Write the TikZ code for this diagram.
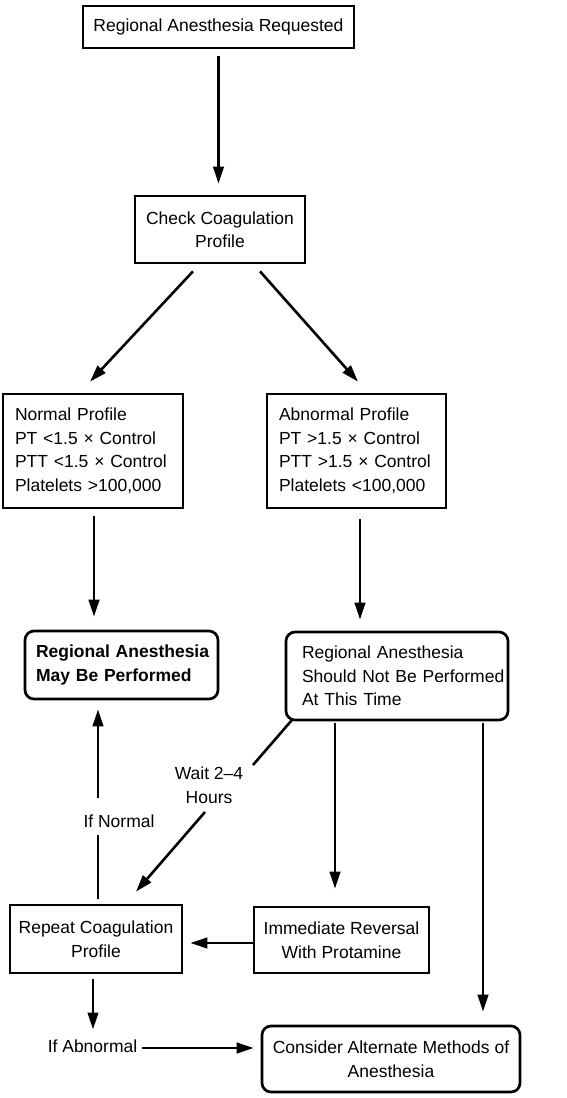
\documentclass[tikz,border=0pt]{standalone}
\usepackage{fontspec}
\setmainfont{Liberation Sans}
\usetikzlibrary{arrows.meta,calc}
\begin{document}
\begin{tikzpicture}[x=1pt,y=-1pt,
  txt/.style={font=\fontsize{17.5}{23.5}\selectfont},
  boldtxt/.style={font=\fontsize{17.5}{23.5}\selectfont\bfseries},
  box/.style={txt, draw, line width=2.7pt, inner sep=0pt, align=center},
  rbox/.style={box, rounded corners=9pt},
  lbox/.style={txt, draw, line width=2.7pt, inner ysep=0pt, align=left},
  lbl/.style={txt, inner sep=2pt, align=center},
  link/.style={line width=2.6pt},
  arr/.style={link, -{Triangle[length=17pt,width=10.5pt]}},
]
\useasboundingbox (0,0) rectangle (567,1098);

% boxes
\node[box, minimum width=271pt, minimum height=42pt] (req) at (218.5,27)
  {Regional Anesthesia Requested};
\node[box, minimum width=170pt, minimum height=67pt] (chk) at (220,229.5)
  {Check Coagulation\\Profile};
\node[lbox, text width=156pt, inner xsep=12pt, minimum height=114pt] (nrm) at (93,451)
  {\mbox{Normal Profile}\\\mbox{PT <1.5 × Control}\\\mbox{PTT <1.5 × Control}\\\mbox{Platelets >100,000}};
\node[lbox, text width=155pt, inner xsep=12pt, minimum height=114pt] (abn) at (356.5,451)
  {\mbox{Abnormal Profile}\\\mbox{PT >1.5 × Control}\\\mbox{PTT >1.5 × Control}\\\mbox{Platelets <100,000}};
\node[lbox, boldtxt, rounded corners=9pt, text width=171pt, inner xsep=11pt, minimum height=68pt] (may) at (121.5,665)
  {\mbox{Regional Anesthesia}\\\mbox{May Be Performed}};
\node[lbox, rounded corners=9pt, text width=190pt, inner xsep=16pt, minimum height=88pt] (should) at (397,676)
  {\mbox{Regional Anesthesia}\\\mbox{Should Not Be Performed}\\\mbox{At This Time}};
\node[box, minimum width=172pt, minimum height=68pt] (rep) at (96,939)
  {Repeat Coagulation\\Profile};
\node[box, minimum width=175pt, minimum height=66pt] (imm) at (341.5,940)
  {Immediate Reversal\\With Protamine};
\node[rbox, minimum width=258pt, minimum height=66pt] (cons) at (391,1059)
  {Consider Alternate Methods of\\Anesthesia};

% connector labels
\node[lbl] (wait) at (209,785) {Wait 2--4\\Hours};
\node[lbl] (ifn) at (119,821.5) {If Normal};
\node[lbl] (ifa) at (92.5,1046.5) {If Abnormal};

% connectors
\draw[arr, shorten <=7pt, shorten >=11pt] (req.south) -- (req.south |- chk.north);
\draw[arr] ($(chk.south)+(-27,7)$) -- ($(nrm.north)+(-3,-11)$);
\draw[arr] ($(chk.south)+(40,7)$) -- ($(abn.north)+(1.5,-11)$);
\draw[arr] ($(nrm.south)+(1,7)$) -- ($(may.north)+(-27.5,-13)$);
\draw[arr] ($(abn.south)+(3.5,10)$) -- ($(should.north)+(-37,-11)$);

\draw[link] ($(should.south west)+(7,-1)$) -- ($(wait.center)+(44,-20)$);
\draw[arr] ($(wait.center)+(-4,27)$) -- ($(rep.north)+(40,-12)$);

\draw[link] ($(rep.north)+(2,-5)$) -- ($(ifn.center)+(-21,13.5)$);
\draw[arr] ($(ifn.center)+(-21,-23.5)$) -- ($(may.south)+(-23.5,9)$);

\draw[arr] ($(should.south)+(-62,2)$) -- ($(imm.north)+(-6.5,-17)$);
\draw[arr] ($(should.south)+(86,2)$) -- ($(cons.north)+(92,-13)$);
\draw[arr] ($(imm.west)+(0,3)$) -- ($(rep.east)+(7,4)$);
\draw[arr] ($(rep.south)+(-3,5)$) -- ($(ifa.center)+(0.5,-17)$);
\draw[arr] ($(ifa.east)+(3,1.5)$) -- ($(cons.west)+(-7,-11)$);
\end{tikzpicture}
\end{document}
